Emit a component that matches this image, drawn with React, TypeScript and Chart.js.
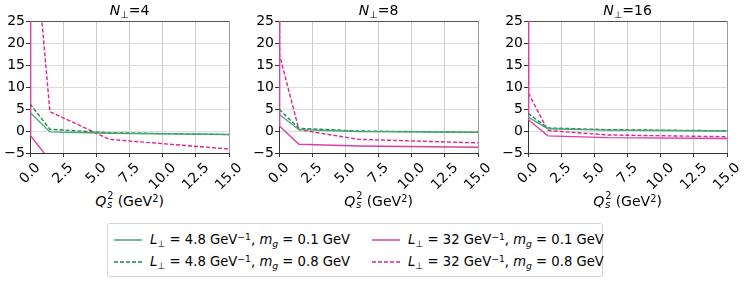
import React, { useEffect, useRef } from 'react';
import { Chart, registerables } from 'chart.js';

Chart.register(...registerables);
Chart.defaults.font.family = '"DejaVu Sans", sans-serif';

// ---- data ----
const qs2 = [0, 0.05, 1.5, 6, 15];
const xTickValues = [0, 2.5, 5, 7.5, 10, 12.5, 15];
const xTickLabels = ['0.0', '2.5', '5.0', '7.5', '10.0', '12.5', '15.0'];
const panelN = ['4', '8', '16'];

// N_perp = 4
const n4_L48_m01 = [4.2, 4.1, -0.2, -0.5, -0.8];
const n4_L48_m08 = [6.2, 6.0, 0.4, -0.4, -0.8];
const n4_L32_m01 = [60, -1.1, -6.7, -10, -12];
const n4_L32_m08 = [60, 54, 4.4, -1.9, -4.1];
// N_perp = 8
const n8_L48_m01 = [3.8, 3.7, 0.3, -0.1, -0.3];
const n8_L48_m08 = [4.9, 4.8, 0.6, 0.0, -0.3];
const n8_L32_m01 = [60, 1.1, -3.0, -3.4, -3.7];
const n8_L32_m08 = [60, 17.2, 0.3, -1.9, -2.7];
// N_perp = 16
const n16_L48_m01 = [3.2, 3.1, 0.5, 0.2, 0.0];
const n16_L48_m08 = [4.0, 3.9, 0.7, 0.3, 0.05];
const n16_L32_m01 = [60, 2.5, -1.1, -1.5, -1.7];
const n16_L32_m08 = [40, 8.5, 0.1, -0.9, -1.3];

const panelSeries = [
  [n4_L48_m01, n4_L48_m08, n4_L32_m01, n4_L32_m08],
  [n8_L48_m01, n8_L48_m08, n8_L32_m01, n8_L32_m08],
  [n16_L48_m01, n16_L48_m08, n16_L32_m01, n16_L32_m08],
];

const legendL = ['4.8', '4.8', '32', '32'];
const legendMg = ['0.1', '0.8', '0.1', '0.8'];

// ---- styles ----
const seriesColors = ['#45a874', '#1f8a4c', '#dc3fa3', '#e0248f'];
const seriesDashed = [false, true, false, true];

const CANVAS_W = 249;
const CANVAS_H = 190;
const Y_AXIS_W = 30;
const PLOT_TOP = 21;
const PLOT_BOTTOM = 153;
const PAD_RIGHT = 20;
const panelLefts = [0, 249, 498];

const xTickPlugin = {
  id: 'rotatedXTicks',
  afterDraw(chart: any) {
    const { ctx, chartArea } = chart;
    const x = chart.scales.x;
    ctx.save();
    ctx.font = '14px "DejaVu Sans"';
    ctx.fillStyle = '#000';
    ctx.textAlign = 'center';
    ctx.textBaseline = 'middle';
    xTickValues.forEach((v, i) => {
      const label = xTickLabels[i];
      const w = ctx.measureText(label).width;
      const px = x.getPixelForValue(v);
      const cy = chartArea.bottom + 8 + ((w + 13) * Math.SQRT1_2) / 2;
      ctx.save();
      ctx.translate(px, cy);
      ctx.rotate(-Math.PI / 4);
      ctx.fillText(label, 0, 0);
      ctx.restore();
    });
    ctx.restore();
  },
};

function Panel({ idx }: { idx: number }) {
  const ref = useRef<HTMLCanvasElement>(null);
  useEffect(() => {
    if (!ref.current) return;
    const datasets = panelSeries[idx].map((vals, si) => ({
      data: vals.map((y, i) => ({ x: qs2[i], y })),
      borderColor: seriesColors[si],
      backgroundColor: seriesColors[si],
      borderWidth: 1.4,
      borderDash: seriesDashed[si] ? [4, 2] : [],
      pointRadius: 0,
      tension: 0,
      fill: false,
    }));
    const chart = new Chart(ref.current, {
      type: 'line',
      data: { datasets },
      options: {
        animation: false,
        responsive: false,
        layout: { padding: { top: PLOT_TOP, right: PAD_RIGHT, left: 0, bottom: 0 } },
        plugins: { legend: { display: false }, tooltip: { enabled: false }, title: { display: false } },
        scales: {
          x: {
            type: 'linear',
            min: 0,
            max: 15,
            afterFit: (s: any) => { s.height = CANVAS_H - PLOT_BOTTOM; },
            afterBuildTicks: (s: any) => { s.ticks = xTickValues.map((v) => ({ value: v })); },
            ticks: { display: false },
            grid: {
              color: (c: any) => (c.tick && c.tick.value === 15 ? '#9a9a9a' : '#cccccc'),
              tickColor: '#333',
              tickLength: 4,
              drawTicks: true,
            },
            border: { color: '#333', width: 1 },
          },
          y: {
            type: 'linear',
            min: -5,
            max: 25,
            afterFit: (s: any) => { s.width = Y_AXIS_W; },
            ticks: {
              stepSize: 5,
              padding: 1,
              color: '#000',
              font: { size: 14, family: '"DejaVu Sans"' },
              callback: (v: any) => String(v).replace('-', '\u2212'),
            },
            grid: {
              color: (c: any) => (c.tick && c.tick.value === 25 ? '#555555' : '#dddddd'),
              tickColor: '#333',
              tickLength: 4,
              drawTicks: true,
            },
            border: { color: '#333', width: 1 },
          },
        },
      },
      plugins: [xTickPlugin],
    } as any);
    return () => chart.destroy();
  }, [idx]);
  return (
    <canvas
      ref={ref}
      width={CANVAS_W}
      height={CANVAS_H}
      style={{ position: 'absolute', left: panelLefts[idx], top: 0, width: CANVAS_W, height: CANVAS_H }}
    />
  );
}

const Sub = ({ children, italic }: any) => (
  <span style={{ fontSize: '70%', verticalAlign: '-0.3em', lineHeight: 0, fontStyle: italic ? 'italic' : 'normal' }}>{children}</span>
);
const Sup = ({ children }: any) => (
  <span style={{ fontSize: '70%', verticalAlign: '0.45em', lineHeight: 0 }}>{children}</span>
);

function XLabel() {
  return (
    <span>
      <i>Q</i>
      <span style={{ display: 'inline-block', position: 'relative', width: '0.5em', height: '1em', verticalAlign: 'baseline' }}>
        <span style={{ position: 'absolute', left: 1, top: '-0.45em', fontSize: '70%' }}>2</span>
        <span style={{ position: 'absolute', left: 1, top: '0.55em', fontSize: '70%', fontStyle: 'italic' }}>s</span>
      </span>
      {' (GeV'}
      <Sup>2</Sup>
      {')'}
    </span>
  );
}

function LegendSwatch({ si }: { si: number }) {
  return (
    <svg width={28} height={6} style={{ position: 'absolute', left: 0, top: 5 }}>
      <line
        x1={0}
        y1={3}
        x2={28}
        y2={3}
        stroke={seriesColors[si]}
        strokeWidth={1.5}
        strokeDasharray={seriesDashed[si] ? '4 2' : undefined}
      />
    </svg>
  );
}

export default function App() {
  const plotCenters = panelLefts.map((l) => l + Y_AXIS_W + (CANVAS_W - Y_AXIS_W - PAD_RIGHT) / 2);
  const legendOrder = [0, 2, 1, 3];
  const colX = [6, 264];
  const rowY = [8, 30];
  return (
    <div
      style={{
        position: 'absolute',
        left: 0,
        top: 0,
        width: 748,
        height: 283,
        background: '#fff',
        fontFamily: '"DejaVu Sans", sans-serif',
        color: '#000',
        overflow: 'hidden',
      }}
    >
      {[0, 1, 2].map((i) => (
        <Panel key={i} idx={i} />
      ))}
      {panelN.map((n, i) => (
        <div
          key={'t' + i}
          style={{ position: 'absolute', left: plotCenters[i] - 60, width: 120, top: 2, textAlign: 'center', fontSize: 14, lineHeight: '16px' }}
        >
          <i>N</i>
          <Sub>⊥</Sub>=<span>{n}</span>
        </div>
      ))}
      {[0, 1, 2].map((i) => (
        <div
          key={'x' + i}
          style={{ position: 'absolute', left: plotCenters[i] - 70, width: 140, top: 192, textAlign: 'center', fontSize: 14, lineHeight: '16px', whiteSpace: 'nowrap' }}
        >
          <XLabel />
        </div>
      ))}
      <div
        style={{
          position: 'absolute',
          left: 107,
          top: 223,
          width: 496,
          height: 54,
          boxSizing: 'border-box',
          border: '1px solid #d6d6d6',
          borderRadius: 3,
          background: '#fff',
        }}
      >
        {legendOrder.map((si) => {
          const col = si >= 2 ? 1 : 0;
          const row = si % 2;
          return (
            <div key={'l' + si} style={{ position: 'absolute', left: colX[col], top: rowY[row], height: 16, width: 240 }}>
              <LegendSwatch si={si} />
              <div style={{ position: 'absolute', left: 36, top: 0, fontSize: 13.2, lineHeight: '16px', whiteSpace: 'nowrap' }}>
                <i>L</i>
                <Sub>⊥</Sub>
                {' = ' + legendL[si] + ' GeV'}
                <Sup>−1</Sup>
                {', '}
                <i>m</i>
                <Sub italic>g</Sub>
                {' = ' + legendMg[si] + ' GeV'}
              </div>
            </div>
          );
        })}
      </div>
    </div>
  );
}
